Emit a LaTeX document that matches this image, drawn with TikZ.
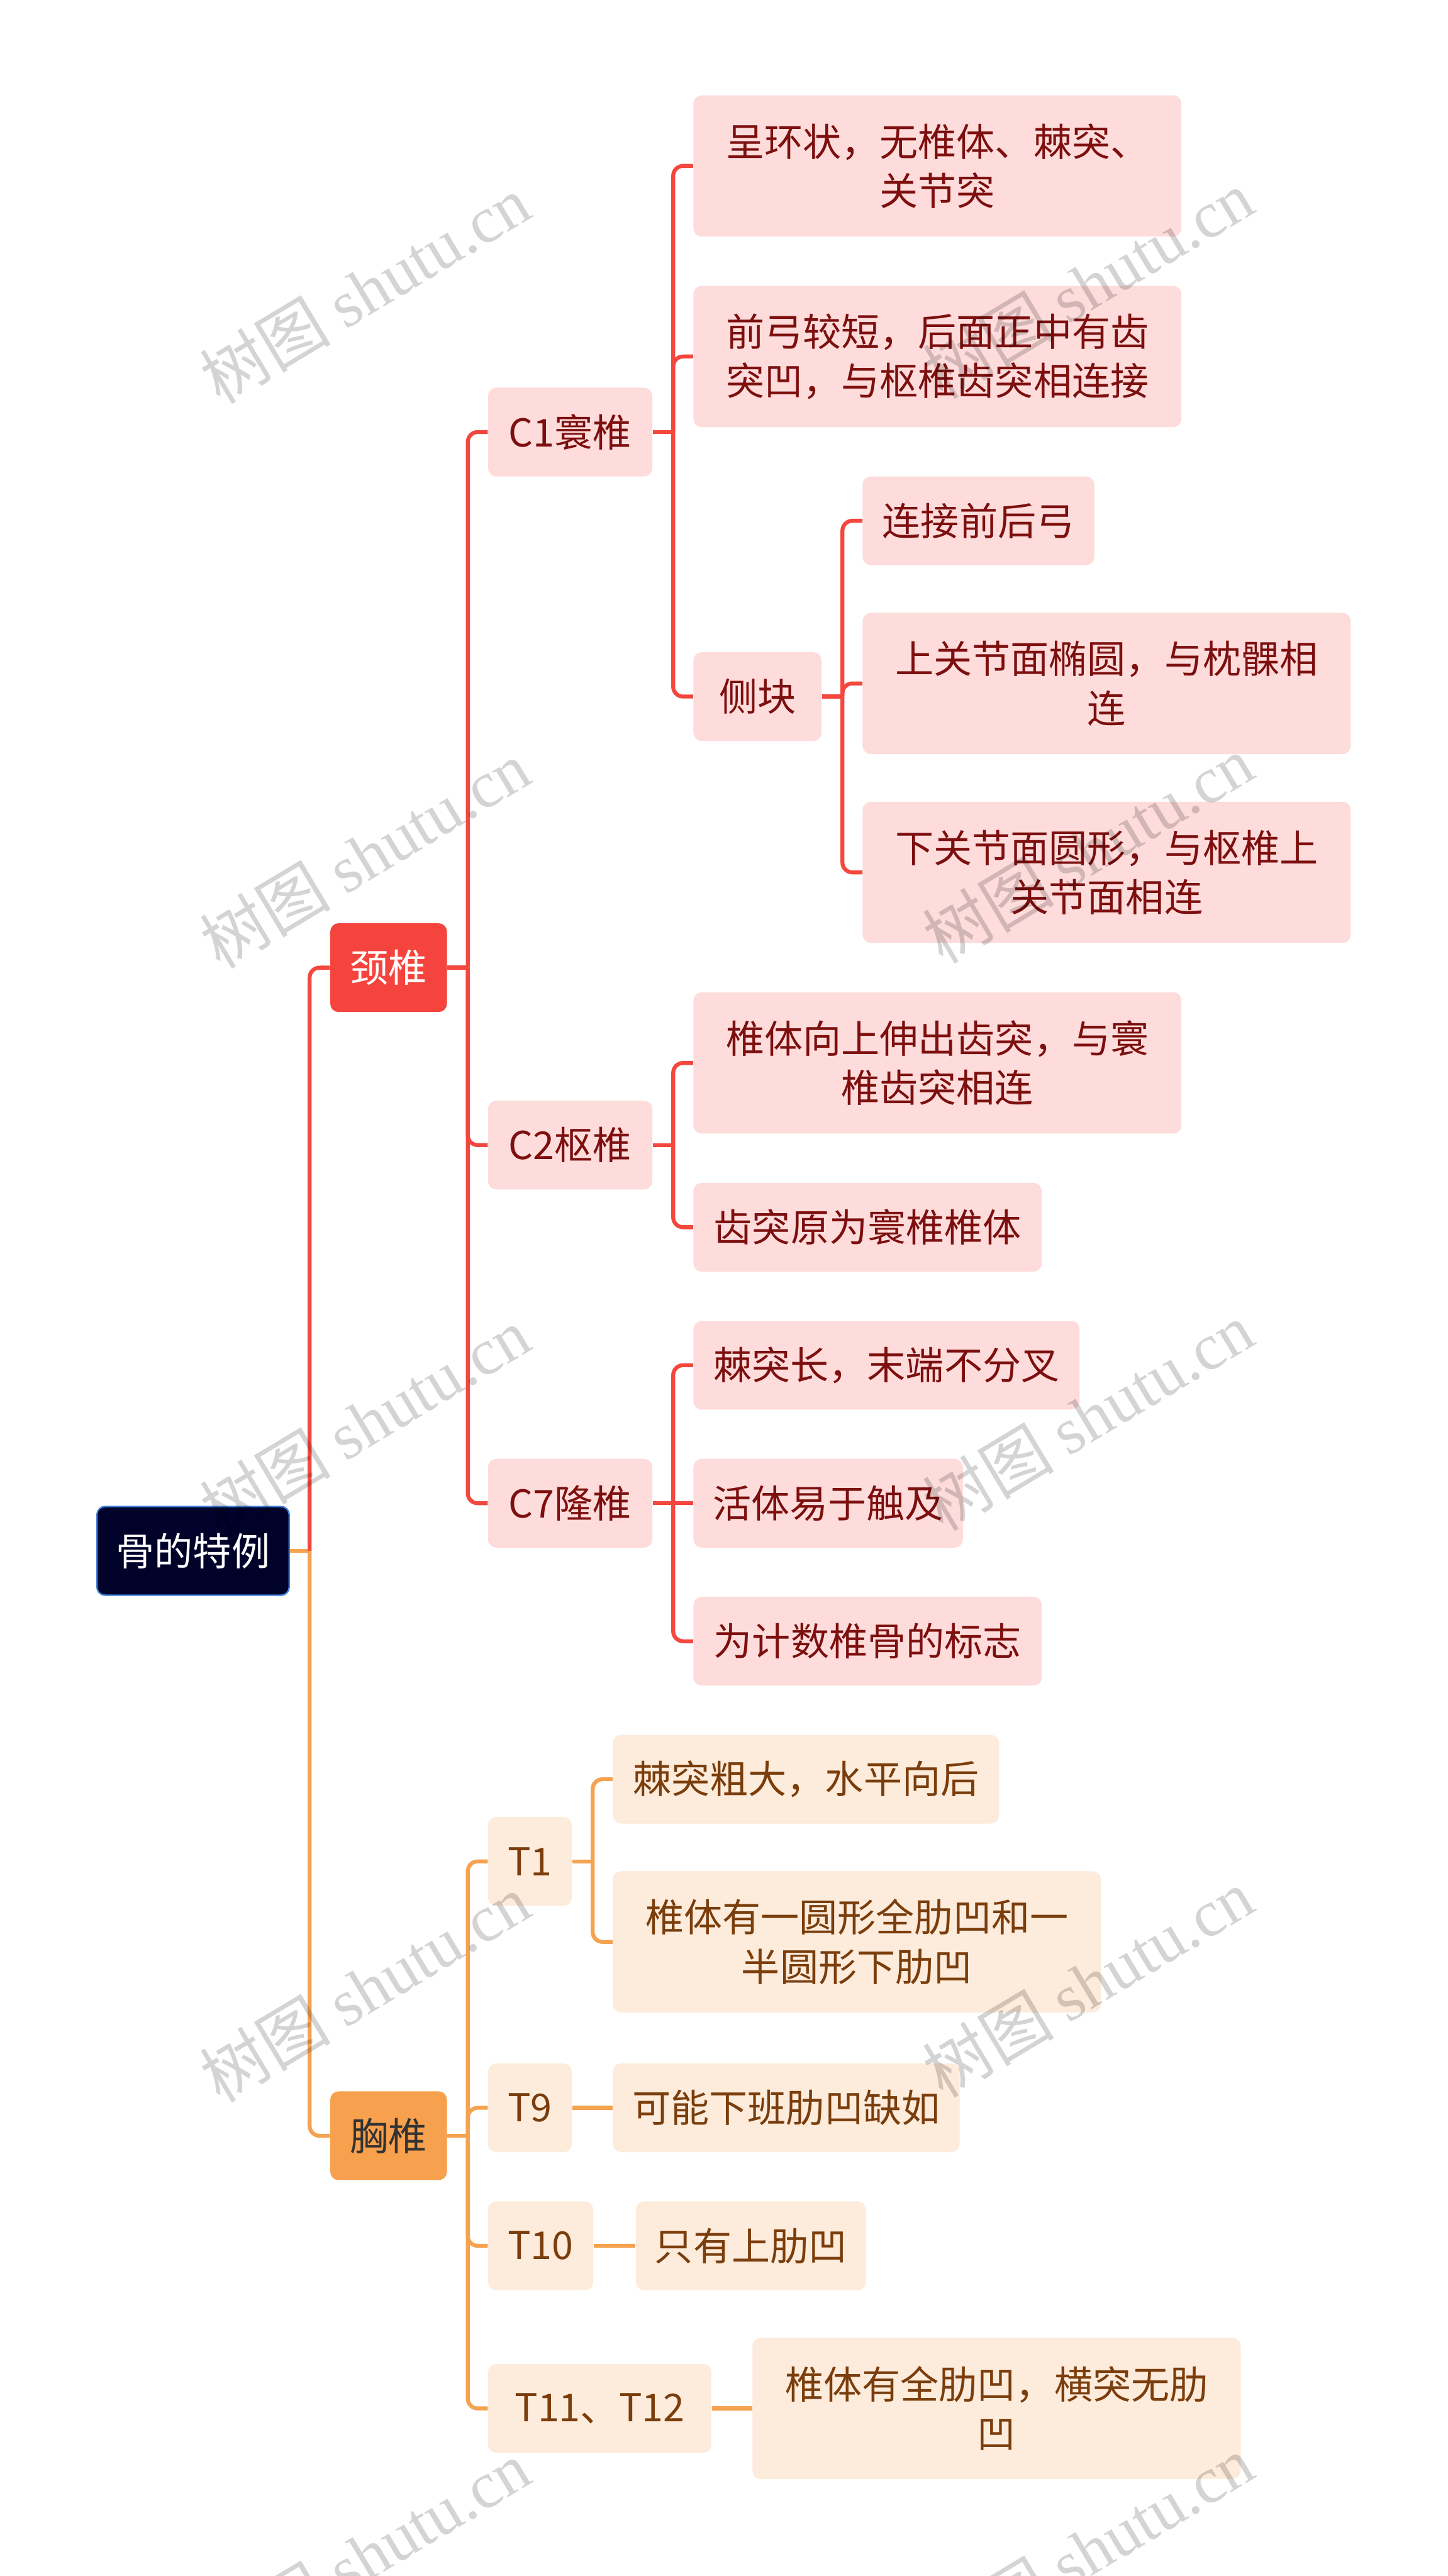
\documentclass[tikz,border=0pt]{standalone}
\usepackage{fontspec}
\setmainfont{Noto Sans CJK SC}
\newfontfamily\wmfont{Liberation Serif}
\usetikzlibrary{calc}
\definecolor{redline}{HTML}{F4473E}
\definecolor{redfill}{HTML}{F5443D}
\definecolor{pinkfill}{HTML}{FDDCDB}
\definecolor{redtext}{HTML}{7D0F0F}
\definecolor{orline}{HTML}{F5A251}
\definecolor{orfill}{HTML}{F7A04D}
\definecolor{peachfill}{HTML}{FDEBDB}
\definecolor{browntext}{HTML}{7A3D0C}
\definecolor{rootfill}{HTML}{00022A}
\definecolor{rootborder}{HTML}{3B7DDD}
\begin{document}
\begin{tikzpicture}[x=1pt,y=-1pt,
  base/.style={rounded corners=5pt, inner sep=0pt, align=center, font=\fontsize{23.4pt}{30pt}\selectfont},
  rootbox/.style={base, fill=rootfill, draw=rootborder, line width=0.9pt, text=white},
  redtop/.style={base, fill=redfill, text=white},
  ortop/.style={base, fill=orfill, text=black!80},
  redbox/.style={base, fill=pinkfill, text=redtext},
  orbox/.style={base, fill=peachfill, text=browntext},
  one/.style={minimum height=54pt},
  two/.style={minimum height=86pt},
  redln/.style={draw=redline, line width=2.4pt, rounded corners=6pt},
  orln/.style={draw=orline, line width=2.4pt, rounded corners=6pt},
  wm/.style={rotate=31, inner sep=0pt, text=black, text opacity=0.17, font=\fontsize{40pt}{40pt}\selectfont}
]
\fill[white] (0,0) rectangle (881,1568);
\useasboundingbox (0,0) rectangle (881,1568);

% nodes
\node[rootbox, one, minimum width=117pt] (root) at (117.5,944) {骨的特例};
\node[redtop, one, minimum width=71pt] (jz) at (236.5,589) {颈椎};
\node[ortop, one, minimum width=71pt] (xz) at (236.5,1300) {胸椎};

\node[redbox, one, minimum width=100pt] (c1) at (347,263) {C1寰椎};
\node[redbox, one, minimum width=100pt] (c2) at (347,697) {C2枢椎};
\node[redbox, one, minimum width=100pt] (c7) at (347,915) {C7隆椎};

\node[redbox, two, minimum width=297pt] (c1a) at (570.5,101) {呈环状，无椎体、棘突、\\关节突};
\node[redbox, two, minimum width=297pt] (c1b) at (570.5,217) {前弓较短，后面正中有齿\\突凹，与枢椎齿突相连接};
\node[redbox, one, minimum width=78pt] (ck) at (461,424) {侧块};
\node[redbox, one, minimum width=141pt] (ck1) at (595.5,317) {连接前后弓};
\node[redbox, two, minimum width=297pt] (ck2) at (673.5,416) {上关节面椭圆，与枕髁相\\连};
\node[redbox, two, minimum width=297pt] (ck3) at (673.5,531) {下关节面圆形，与枢椎上\\关节面相连};

\node[redbox, two, minimum width=297pt] (c2a) at (570.5,647) {椎体向上伸出齿突，与寰\\椎齿突相连};
\node[redbox, one, minimum width=212pt] (c2b) at (528,747) {齿突原为寰椎椎体};

\node[redbox, one, minimum width=235pt] (c7a) at (539.5,831) {棘突长，末端不分叉};
\node[redbox, one, minimum width=164pt] (c7b) at (504,915) {活体易于触及};
\node[redbox, one, minimum width=212pt] (c7c) at (528,999) {为计数椎骨的标志};

\node[orbox, one, minimum width=51pt] (t1) at (322.5,1133) {T1};
\node[orbox, one, minimum width=51pt] (t9) at (322.5,1283) {T9};
\node[orbox, one, minimum width=64pt] (t10) at (329,1367) {T10};
\node[orbox, one, minimum width=136pt] (t11) at (365,1466) {T11、T12};

\node[orbox, one, minimum width=235pt] (t1a) at (490.5,1083) {棘突粗大，水平向后};
\node[orbox, two, minimum width=297pt] (t1b) at (521.5,1182) {椎体有一圆形全肋凹和一\\半圆形下肋凹};
\node[orbox, one, minimum width=211pt] (t9a) at (478.5,1283) {可能下班肋凹缺如};
\node[orbox, one, minimum width=140pt] (t10a) at (457,1367) {只有上肋凹};
\node[orbox, two, minimum width=297pt] (t11a) at (606.5,1466) {椎体有全肋凹，横突无肋\\凹};

% junctions
\coordinate (jroot) at ($(root.east)+(12,0)$);
\coordinate (jjz) at ($(jz.east)+(12.5,0)$);
\coordinate (jc1) at ($(c1.east)+(12.5,0)$);
\coordinate (jck) at ($(ck.east)+(12.5,0)$);
\coordinate (jc2) at ($(c2.east)+(12.5,0)$);
\coordinate (jc7) at ($(c7.east)+(12.5,0)$);
\coordinate (jxz) at ($(xz.east)+(12.5,0)$);
\coordinate (jt1) at ($(t1.east)+(12.5,0)$);

% connectors
\draw[orln] (root.east) -- (jroot);
\draw[redln] (jroot) |- (jz.west);
\draw[orln] (jroot) |- (xz.west);

\draw[redln] (jz.east) -- (jjz);
\draw[redln] (jjz) |- (c1.west);
\draw[redln] (jjz) |- (c2.west);
\draw[redln] (jjz) |- (c7.west);

\draw[redln] (c1.east) -- (jc1);
\draw[redln] (jc1) |- (c1a.west);
\draw[redln] (jc1) |- (c1b.west);
\draw[redln] (jc1) |- (ck.west);

\draw[redln] (ck.east) -- (jck);
\draw[redln] (jck) |- (ck1.west);
\draw[redln] (jck) |- (ck2.west);
\draw[redln] (jck) |- (ck3.west);

\draw[redln] (c2.east) -- (jc2);
\draw[redln] (jc2) |- (c2a.west);
\draw[redln] (jc2) |- (c2b.west);

\draw[redln] (c7.east) -- (jc7);
\draw[redln] (jc7) |- (c7a.west);
\draw[redln] (c7.east) -- (c7b.west);
\draw[redln] (jc7) |- (c7c.west);

\draw[orln] (xz.east) -- (jxz);
\draw[orln] (jxz) |- (t1.west);
\draw[orln] (jxz) |- (t9.west);
\draw[orln] (jxz) |- (t10.west);
\draw[orln] (jxz) |- (t11.west);

\draw[orln] (t1.east) -- (jt1);
\draw[orln] (jt1) |- (t1a.west);
\draw[orln] (jt1) |- (t1b.west);
\draw[orln] (t9.east) -- (t9a.west);
\draw[orln] (t10.east) -- (t10a.west);
\draw[orln] (t11.east) -- (t11a.west);

% watermarks
\foreach \wy [count=\i] in {176,520,865,1210,1555}{
  \node[wm] (wl\i) at (222,\wy) {树图 {\wmfont shutu.cn}};
  \node[wm] (wr\i) at (662,\wy-3) {树图 {\wmfont shutu.cn}};
}
\end{tikzpicture}
\end{document}
